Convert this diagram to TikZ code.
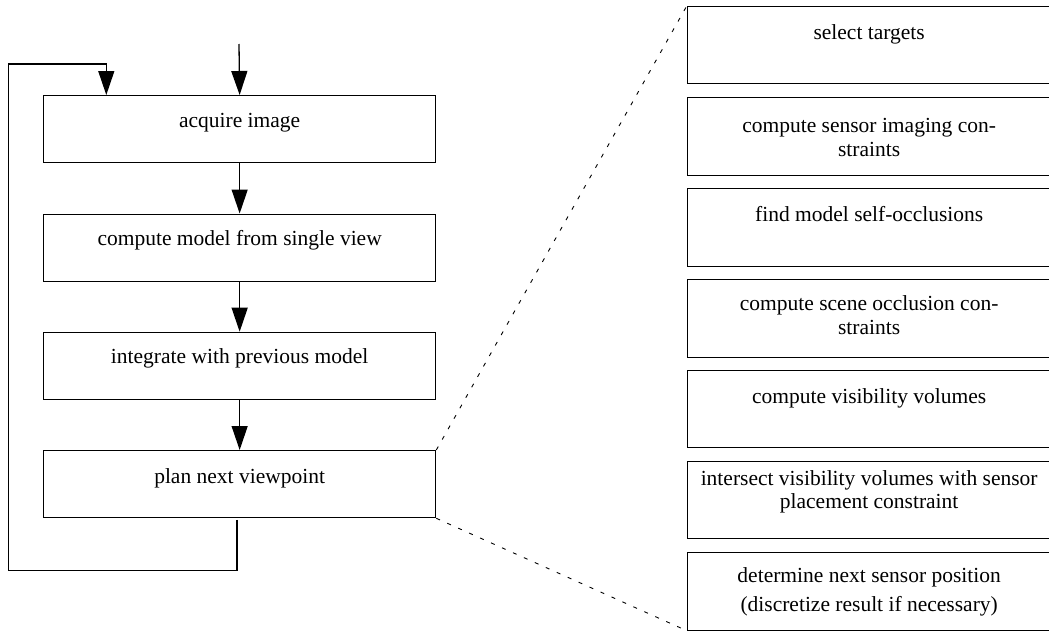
\documentclass[tikz,border=0pt]{standalone}
\usepackage{fontspec}
\setmainfont{Liberation Serif}
\usetikzlibrary{arrows.meta,calc}
\begin{document}
\begin{tikzpicture}[x=1pt,y=-1pt,
  lbox/.style={draw,line width=1.3pt,minimum width=392pt,minimum height=67pt,inner sep=0pt,anchor=north west},
  rbox/.style={draw,line width=1.3pt,minimum width=363pt,minimum height=77.5pt,inner sep=0pt,anchor=north west},
  txt/.style={anchor=base,inner sep=0pt,font=\fontsize{21.5}{26}\selectfont},
  flow/.style={line width=1.3pt,-{Triangle[length=24pt,width=16pt]}},
  zoomline/.style={line width=0.9pt,dash pattern=on 4pt off 8pt}]
\useasboundingbox (0,0) rectangle (1049,632);
\clip (0,0) rectangle (1049,632);
% left flow
\node[lbox] (a1) at (43,95) {};
\node[lbox] (a2) at (43,213.5) {};
\node[lbox] (a3) at (43,331.7) {};
\node[lbox] (a4) at (43,450) {};
\node[txt] (ta1) at ($(a1.north)+(0,32)$) {acquire image};
\node[txt] (ta2) at ($(a2.north)+(0,32)$) {compute model from single view};
\node[txt] (ta3) at ($(a3.north)+(0,32)$) {integrate with previous model};
\node[txt] (ta4) at ($(a4.north)+(0,33)$) {plan next viewpoint};
\coordinate (in) at (239,44);
\draw[flow] (in) -- (a1.north);
\draw[flow] (a1.south) -- (a2.north);
\draw[flow] (a2.south) -- (a3.north);
\draw[flow] (a3.south) -- (a4.north);
\coordinate (fb) at ($(a1.north west)+(63.3,0)$);
\coordinate (out) at ($(a4.south)+(-2.6,1.5)$);
\draw[flow] (out) |- (8.3,570.7) |- ($(fb)+(0,-31)$) -- (fb);
% right detail
\node[rbox] (b1) at (687,5.5) {};
\node[rbox] (b2) at (687,97) {};
\node[rbox] (b3) at (687,188) {};
\node[rbox] (b4) at (687,279) {};
\node[rbox] (b5) at (687,369.5) {};
\node[rbox] (b6) at (687,460.5) {};
\node[rbox] (b7) at (687,552) {};
\node[txt] (tb1) at ($(b1.north)+(0,34)$) {select targets};
\node[txt] (tb2a) at ($(b2.north)+(0,35.5)$) {compute sensor imaging con-};
\node[txt] (tb2b) at ($(b2.north)+(0,59.5)$) {straints};
\node[txt] (tb3) at ($(b3.north)+(0,33.7)$) {find model self-occlusions};
\node[txt] (tb4a) at ($(b4.north)+(0,31.7)$) {compute scene occlusion con-};
\node[txt] (tb4b) at ($(b4.north)+(0,55.3)$) {straints};
\node[txt] (tb5) at ($(b5.north)+(0,34)$) {compute visibility volumes};
\node[txt] (tb6a) at ($(b6.north)+(0,24.5)$) {intersect visibility volumes with sensor};
\node[txt] (tb6b) at ($(b6.north)+(0,48)$) {placement constraint};
\node[txt] (tb7a) at ($(b7.north)+(0,30.5)$) {determine next sensor position};
\node[txt] (tb7b) at ($(b7.north)+(0,59.5)$) {(discretize result if necessary)};
% zoom lines
\draw[zoomline] (a4.north east) -- (b1.north west);
\draw[zoomline] (a4.south east) -- (b7.south west);
\end{tikzpicture}
\end{document}
